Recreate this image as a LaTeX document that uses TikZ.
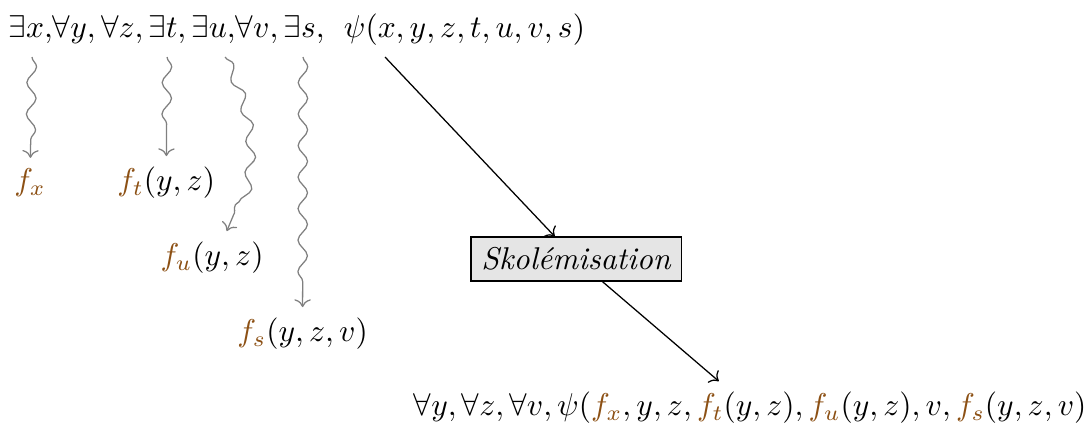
\documentclass[tikz,border=0pt]{standalone}
\usepackage{xcolor}
\usepackage{amsmath}
\usepackage{tikz}
\usetikzlibrary{arrows.meta, positioning, decorations.pathmorphing}
\definecolor{skolem}{RGB}{140,80,20}
\newcommand{\sk}[1]{\textcolor{skolem}{#1}}
\tikzset{
  etape/.style={rectangle, draw, fill=gray!20, font=\itshape},
  snakearrow/.style={->, gray, decorate, decoration={snake, amplitude=1.5pt, segment length=10pt, post length=2mm}},
  arrow/.style={->},
}

\begin{document}
\begin{tikzpicture}
  \useasboundingbox (0,0) rectangle (12.14,4.72);

  % formule de depart
  \node[anchor=west, inner sep=0pt] (formule) at (0.09,4.39)
    {$\exists x{,}\forall y, \forall z, \exists t, \exists u{,}\forall v, \exists s,\;\,\psi(x,y,z,t,u,v,s)$};
  \coordinate (qx) at (0.357,4.084);
  \coordinate (qt) at (1.864,4.084);
  \coordinate (qu) at (2.511,4.084);
  \coordinate (qs) at (3.381,4.084);
  \coordinate (qpsi) at (4.296,4.084);

  % fonctions de Skolem
  \node (fx) at (0.335,2.678) {$\sk{f_x}$};
  \node (ft) at (1.855,2.678) {$\sk{f_t}(y,z)$};
  \node (fu) at (2.366,1.841) {$\sk{f_u}(y,z)$};
  \node (fs) at (3.376,0.993) {$\sk{f_s}(y,z,v)$};

  \node[etape] (skol) at (6.428,1.830) {Skolémisation};
  \node[anchor=east, inner xsep=0pt] (final) at (12.13,0.167)
    {$\forall y, \forall z, \forall v, \psi(\sk{f_x}, y, z, \sk{f_t}(y,z), \sk{f_u}(y,z), v, \sk{f_s}(y,z,v)$};

  \draw[snakearrow] (qx) -- (fx);
  \draw[snakearrow] (qt) -- (ft);
  \draw[snakearrow] (qu) to[bend left=25] (fu);
  \draw[snakearrow] (qs) -- (fs);
  \draw[arrow] (qpsi) -- (skol);
  \draw[arrow] (skol) -- (final);
\end{tikzpicture}
\end{document}
